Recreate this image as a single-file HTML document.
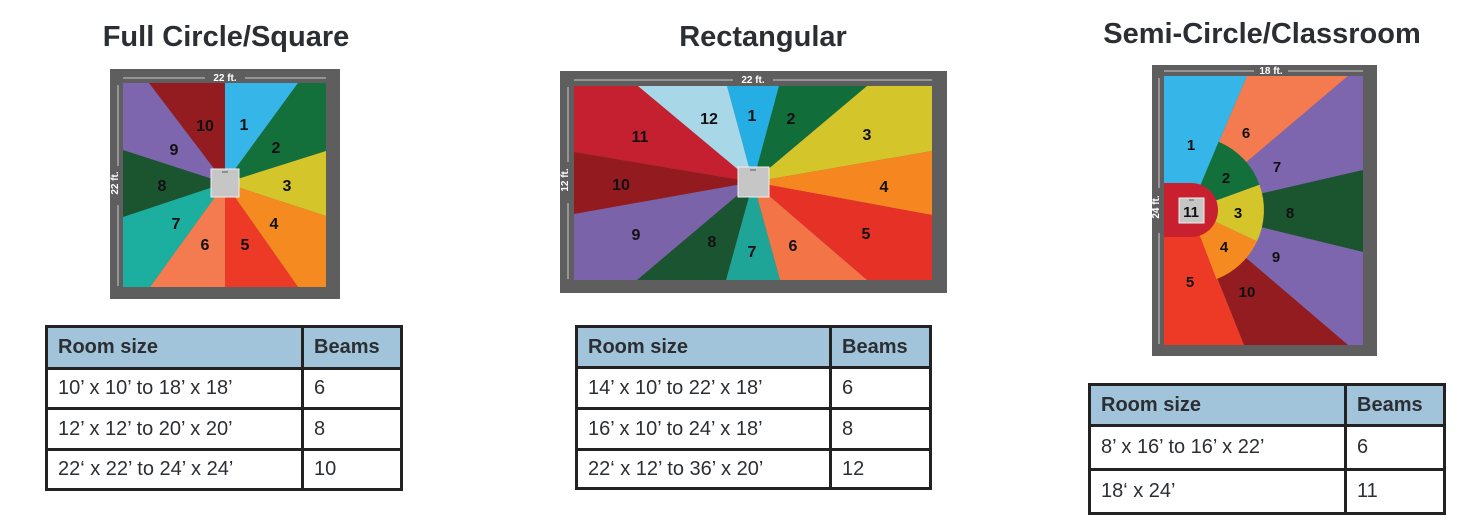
<!DOCTYPE html>
<html><head><meta charset="utf-8">
<style>
body{margin:0;background:#fff;width:1461px;height:525px;overflow:hidden;position:relative;font-family:"Liberation Sans",sans-serif;}
.t{position:absolute;font-weight:bold;font-size:29px;color:#2b2f33;text-align:center;white-space:nowrap}
table{position:absolute;border-collapse:collapse;border:3px solid #222;}
td{border:3px solid #222;font-size:20px;color:#2b2f33;padding:0 0 0 10px;white-space:nowrap}
tr.h td{background:#a2c4db;font-weight:bold;}
svg{position:absolute;left:0;top:0}
svg text{font-family:"Liberation Sans",sans-serif;font-weight:bold}
</style></head><body>
<div class="t" style="left:76px;top:21px;width:300px">Full Circle/Square</div>
<div class="t" style="left:613px;top:21px;width:300px">Rectangular</div>
<div class="t" style="left:1082px;top:18px;width:360px">Semi-Circle/Classroom</div>

<svg width="1461" height="525" viewBox="0 0 1461 525">
<rect x="110" y="69" width="230" height="230" fill="#5e5e5e"/>
<g>
<polygon points="225,183 225,83 298,83" fill="#35b5e8"/>
<polygon points="225,183 298,83 326,83 326,151" fill="#13703a"/>
<polygon points="225,183 326,151 326,216" fill="#d3c52a"/>
<polygon points="225,183 326,216 326,287 298,287" fill="#f58b20"/>
<polygon points="225,183 298,287 225,287" fill="#ec3a26"/>
<polygon points="225,183 225,287 150,287" fill="#f47b50"/>
<polygon points="225,183 150,287 123,287 123,217" fill="#1cae9e"/>
<polygon points="225,183 123,217 123,150" fill="#1a5530"/>
<polygon points="225,183 123,150 123,83 149,83" fill="#7d66ae"/>
<polygon points="225,183 149,83 225,83" fill="#931c21"/>
</g>
<rect x="211" y="169" width="28" height="28" fill="#c6c6c6" stroke="#eee" stroke-width="1"/>
<line x1="222" y1="172" x2="228" y2="172" stroke="#555"/>
<line x1="123" y1="78" x2="205" y2="78" stroke="#ccc"/><line x1="245" y1="78" x2="326" y2="78" stroke="#ccc"/>
<text x="225" y="81" font-size="10" fill="#fff" text-anchor="middle">22 ft.</text>
<line x1="118" y1="85" x2="118" y2="166" stroke="#ccc"/><line x1="118" y1="205" x2="118" y2="286" stroke="#ccc"/>
<text x="121" y="186" font-size="10" fill="#fff" text-anchor="middle" transform="rotate(-90 118 186)">22 ft.</text>
<g font-size="16" fill="#111" text-anchor="middle">
<text x="244" y="130">1</text><text x="276" y="153">2</text><text x="287" y="191">3</text><text x="274" y="229">4</text><text x="245" y="250">5</text><text x="205" y="250">6</text><text x="176" y="229">7</text><text x="162" y="191">8</text><text x="174" y="155">9</text><text x="205" y="131">10</text>
</g>

<rect x="560" y="71" width="387" height="222" fill="#5e5e5e"/>
<g>
<polygon points="753,182 727,86 779,86" fill="#25aee4"/>
<polygon points="753,182 779,86 867,86" fill="#116e3a"/>
<polygon points="753,182 867,86 932,86 932,151" fill="#d3c52a"/>
<polygon points="753,182 932,151 932,215" fill="#f6861f"/>
<polygon points="753,182 932,215 932,280 867,280" fill="#e63226"/>
<polygon points="753,182 867,280 780,280" fill="#f37547"/>
<polygon points="753,182 780,280 726,280" fill="#1fa597"/>
<polygon points="753,182 726,280 637,280" fill="#1b5430"/>
<polygon points="753,182 637,280 574,280 574,214" fill="#7b63aa"/>
<polygon points="753,182 574,214 574,152" fill="#931b20"/>
<polygon points="753,182 574,152 574,86 638,86" fill="#c4202f"/>
<polygon points="753,182 638,86 727,86" fill="#a8d8e8"/>
</g>
<rect x="738" y="167" width="31" height="30" fill="#c6c6c6" stroke="#eee" stroke-width="1"/>
<line x1="750" y1="170" x2="756" y2="170" stroke="#555"/>
<line x1="574" y1="80" x2="733" y2="80" stroke="#ccc"/><line x1="773" y1="80" x2="932" y2="80" stroke="#ccc"/>
<text x="753" y="83" font-size="10" fill="#fff" text-anchor="middle">22 ft.</text>
<line x1="568" y1="87" x2="568" y2="162" stroke="#ccc"/><line x1="568" y1="203" x2="568" y2="279" stroke="#ccc"/>
<text x="571" y="183" font-size="10" fill="#fff" text-anchor="middle" transform="rotate(-90 568 183)">12 ft.</text>
<g font-size="16" fill="#111" text-anchor="middle">
<text x="752" y="121">1</text><text x="791" y="124">2</text><text x="867" y="140">3</text><text x="884" y="192">4</text><text x="866" y="239">5</text><text x="793" y="251">6</text><text x="752" y="257">7</text><text x="712" y="247">8</text><text x="636" y="240">9</text><text x="621" y="190">10</text><text x="640" y="142">11</text><text x="709" y="124">12</text>
</g>

<rect x="1152" y="65" width="225" height="291" fill="#5e5e5e"/>
<g>
<polygon points="1190,210 1164,210 1164,76 1247,76" fill="#35b5e8"/>
<polygon points="1190,210 1247,76 1348,76" fill="#f47b50"/>
<polygon points="1190,210 1348,76 1363,76 1363,170" fill="#7d66ae"/>
<polygon points="1190,210 1363,170 1363,252" fill="#1a5530"/>
<polygon points="1190,210 1363,252 1363,345 1348,345" fill="#7d66ae"/>
<polygon points="1190,210 1348,345 1244,345" fill="#931c21"/>
<polygon points="1190,210 1244,345 1164,345 1164,210" fill="#ec3a26"/>
<path d="M1190,210 L1218.6,141.7 A74,74 0 0 1 1259.5,184.7 Z" fill="#13703a"/>
<path d="M1190,210 L1259.5,184.7 A74,74 0 0 1 1257,241.3 Z" fill="#d3c52a"/>
<path d="M1190,210 L1257,241.3 A74,74 0 0 1 1216.5,279.1 Z" fill="#f58b20"/>
<path d="M1164,183 H1191 A27,27 0 0 1 1191,237 H1164 Z" fill="#c8202f"/>
</g>
<rect x="1179" y="198" width="25" height="25" fill="#c6c6c6" stroke="#eee" stroke-width="1"/>
<line x1="1189" y1="200" x2="1194" y2="200" stroke="#555"/>
<line x1="1164" y1="71" x2="1254" y2="71" stroke="#ccc"/><line x1="1288" y1="71" x2="1363" y2="71" stroke="#ccc"/>
<text x="1271" y="74" font-size="10" fill="#fff" text-anchor="middle">18 ft.</text>
<line x1="1159" y1="78" x2="1159" y2="188" stroke="#ccc"/><line x1="1159" y1="233" x2="1159" y2="344" stroke="#ccc"/>
<text x="1162" y="210" font-size="10" fill="#fff" text-anchor="middle" transform="rotate(-90 1159 210)">24 ft.</text>
<g font-size="15" fill="#111" text-anchor="middle">
<text x="1191" y="150">1</text><text x="1226" y="183">2</text><text x="1238" y="218">3</text><text x="1224" y="252">4</text><text x="1190" y="287">5</text><text x="1246" y="138">6</text><text x="1277" y="172">7</text><text x="1290" y="218">8</text><text x="1276" y="262">9</text><text x="1247" y="297">10</text><text x="1191" y="217" font-size="15">11</text>
</g>
</svg>

<table style="left:45px;top:325px;width:358px;height:163px">
<tr class="h" style="height:42px"><td style="width:243px">Room size</td><td>Beams</td></tr>
<tr style="height:40px"><td>10’ x 10’ to 18’ x 18’</td><td>6</td></tr>
<tr style="height:41px"><td>12’ x 12’ to 20’ x 20’</td><td>8</td></tr>
<tr style="height:40px"><td>22‘ x 22’ to 24’ x 24’</td><td>10</td></tr>
</table>
<table style="left:575px;top:325px;width:357px;height:162px">
<tr class="h" style="height:41px"><td style="width:241px">Room size</td><td>Beams</td></tr>
<tr style="height:41px"><td>14’ x 10’ to 22’ x 18’</td><td>6</td></tr>
<tr style="height:41px"><td>16’ x 10’ to 24’ x 18’</td><td>8</td></tr>
<tr style="height:39px"><td>22‘ x 12’ to 36’ x 20’</td><td>12</td></tr>
</table>
<table style="left:1088px;top:383px;width:358px;height:129px">
<tr class="h" style="height:41px"><td style="width:243px">Room size</td><td>Beams</td></tr>
<tr style="height:44px"><td>8’ x 16’ to 16’ x 22’</td><td>6</td></tr>
<tr style="height:44px"><td>18‘ x 24’</td><td>11</td></tr>
</table>
</body></html>
